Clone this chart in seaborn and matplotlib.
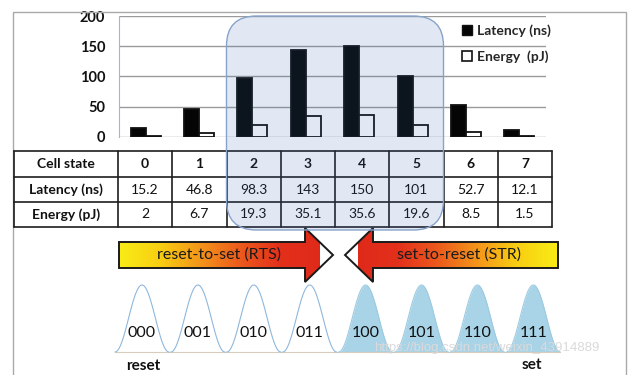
import numpy as np
import pandas as pd
import matplotlib
matplotlib.use('Agg')
import matplotlib.pyplot as plt
import seaborn as sns
from matplotlib.patches import Polygon, FancyBboxPatch, Rectangle, Patch
from matplotlib.colors import LinearSegmentedColormap

# chart data
states = ['0', '1', '2', '3', '4', '5', '6', '7']
latency_ns = [15.2, 46.8, 98.3, 143, 150, 101, 52.7, 12.1]
energy_pj = [2, 6.7, 19.3, 35.1, 35.6, 19.6, 8.5, 1.5]
codes = ['000', '001', '010', '011', '100', '101', '110', '111']
row_labels = ['Cell state', 'Latency (ns)', 'Energy (pJ)']
legend_labels = ['Latency (ns)', 'Energy  (pJ)']
highlight_states = ['2', '3', '4', '5']
y_ticks = [0, 50, 100, 150, 200]

W, H = 633, 375


def fx(px):
    return px / W


def fy(py):
    return 1 - py / H


sns.set_style('white')
plt.rcParams['font.family'] = ['Lato', 'DejaVu Sans']

fig = plt.figure(figsize=(W / 100, H / 100), dpi=100)

# --- bar chart ---
ax = fig.add_axes([fx(119), fy(137), fx(546) - fx(119), fy(16) - fy(137)])
df = pd.DataFrame({'state': states * 2,
                   'value': latency_ns + energy_pj,
                   'metric': [legend_labels[0]] * len(states) + [legend_labels[1]] * len(states)})
sns.barplot(data=df, x='state', y='value', hue='metric',
            palette=['#050505', 'white'], edgecolor='#111111', linewidth=1.3,
            width=0.56, ax=ax, legend=False)
ax.set_ylim(0, 200)
ax.set_xlim(-0.5, len(states) - 0.5)
ax.set_yticks(y_ticks)
ax.yaxis.grid(True, color='#9a9a9a', lw=1)
ax.set_axisbelow(True)
ax.set_xticks([])
ax.set_xlabel('')
ax.set_ylabel('')
for s in ['top', 'right', 'bottom']:
    ax.spines[s].set_visible(False)
ax.spines['left'].set_color('#9cb6d8')
ax.tick_params(axis='y', length=0, pad=10, labelsize=10.5, labelcolor='#111111')
for t in ax.get_yticklabels():
    t.set_fontweight('bold')
handles = [Patch(facecolor='#050505', edgecolor='#111111'),
           Patch(facecolor='white', edgecolor='#111111', linewidth=1.2)]
ax.legend(handles, legend_labels, loc='upper left',
          bbox_to_anchor=(fx(462), fy(24)), bbox_transform=fig.transFigure,
          frameon=False, prop={'weight': 'bold', 'size': 10},
          handlelength=0.75, handleheight=0.75, handletextpad=0.3,
          labelspacing=1.0, borderpad=0, borderaxespad=0)

# --- overlay in pixel coordinates ---
ov = fig.add_axes([0, 0, 1, 1], zorder=5)
ov.patch.set_alpha(0)
ov.axis('off')

# outer frame
ov.add_patch(Rectangle((13, 12), 613, 370, fill=False, ec='#a9a9a9', lw=1))

# table
col_edges = [14] + list(np.linspace(118, 552, len(states) + 1))
row_edges = [151, 177, 202, 227]
for y in row_edges:
    ov.plot([col_edges[0], col_edges[-1]], [y, y], color='#1e1e1e', lw=1.2)
for x in col_edges:
    ov.plot([x, x], [row_edges[0], row_edges[-1]], color='#1e1e1e', lw=1.2)
row_values = [states,
              [f'{v:g}' for v in latency_ns],
              [f'{v:g}' for v in energy_pj]]
for r, label in enumerate(row_labels):
    yc = (row_edges[r] + row_edges[r + 1]) / 2
    ov.text((col_edges[0] + col_edges[1]) / 2, yc, label, ha='center', va='center',
            size=10, weight='bold', color='#111111')
    for c, val in enumerate(row_values[r]):
        xc = (col_edges[c + 1] + col_edges[c + 2]) / 2
        ov.text(xc, yc, val, ha='center', va='center', size=10,
                weight='bold' if r == 0 else 'normal', color='#111111')

# highlighted states box
i0 = states.index(highlight_states[0])
i1 = states.index(highlight_states[-1])
bx0, bx1 = col_edges[i0 + 1], col_edges[i1 + 2]
ov.add_patch(FancyBboxPatch((bx0, 16), bx1 - bx0, 214,
                            boxstyle='round,pad=0,rounding_size=30',
                            fc='#3a6bb0', alpha=0.15, ec='none', zorder=6))
ov.add_patch(FancyBboxPatch((bx0, 16), bx1 - bx0, 214,
                            boxstyle='round,pad=0,rounding_size=30',
                            fc='none', ec='#87a3cb', lw=1, zorder=6))

# gradient arrows
cmap = LinearSegmentedColormap.from_list(
    'heat', ['#f8ec16', '#f8cf12', '#f4961a', '#ec5a1d', '#e3301b', '#df2a1a'])


def gradient_arrow(pts, x_yellow, x_red, text, tx):
    poly = Polygon(pts, closed=True, fc='none', ec='#1a1a1a', lw=1.4, zorder=4)
    ov.add_patch(poly)
    grad = np.tile(np.linspace(0, 1, 256), (4, 1))
    im = ov.imshow(grad, cmap=cmap, aspect='auto', interpolation='nearest',
                   extent=(x_yellow, x_red, 290, 220), zorder=3)
    im.set_clip_path(poly)
    ov.text(tx, 255, text, ha='center', va='center', size=11.5, color='#1a1a1a', zorder=5)


gradient_arrow([(119, 242), (305, 242), (305, 228), (333, 255), (305, 282), (305, 268), (119, 268)],
               119, 320, 'reset-to-set (RTS)', 219)
gradient_arrow([(558, 242), (373, 242), (373, 228), (345, 255), (373, 282), (373, 268), (558, 268)],
               558, 358, 'set-to-reset (STR)', 459)

# state distributions
base_y, peak_h, half_w = 352, 67, 27
x_first, step = 142, 55.9
ov.plot([115, 560], [base_y, base_y], color='#d9ccbd', lw=0.8)
for i, code in enumerate(codes):
    cx = x_first + i * step
    xs = np.linspace(cx - half_w, cx + half_w, 120)
    ys = base_y - peak_h * (0.5 + 0.5 * np.cos(np.pi * (xs - cx) / half_w))
    if code.startswith('1'):
        ov.fill_between(xs, ys, base_y, color='#a9d3e6', lw=0)
        ov.plot(xs, ys, color='#9ccbe2', lw=0.8)
    else:
        ov.plot(xs, ys, color='#8fb8dc', lw=0.8)
    ov.text(cx, 333, code, ha='center', va='center', size=11.5, color='#111111')

ov.text(143, 366, 'reset', ha='center', va='center', size=11, weight='bold', color='#111111')
ov.text(532, 365, 'set', ha='center', va='center', size=11, weight='bold', color='#111111')
ov.text(487, 348, 'https://blog.csdn.net/weixin_43914889', ha='center', va='center',
        size=9.5, color='#dadada', family='Liberation Sans', zorder=7)

ov.set_xlim(0, W)
ov.set_ylim(H, 0)

fig.savefig('out.png', dpi=100)
